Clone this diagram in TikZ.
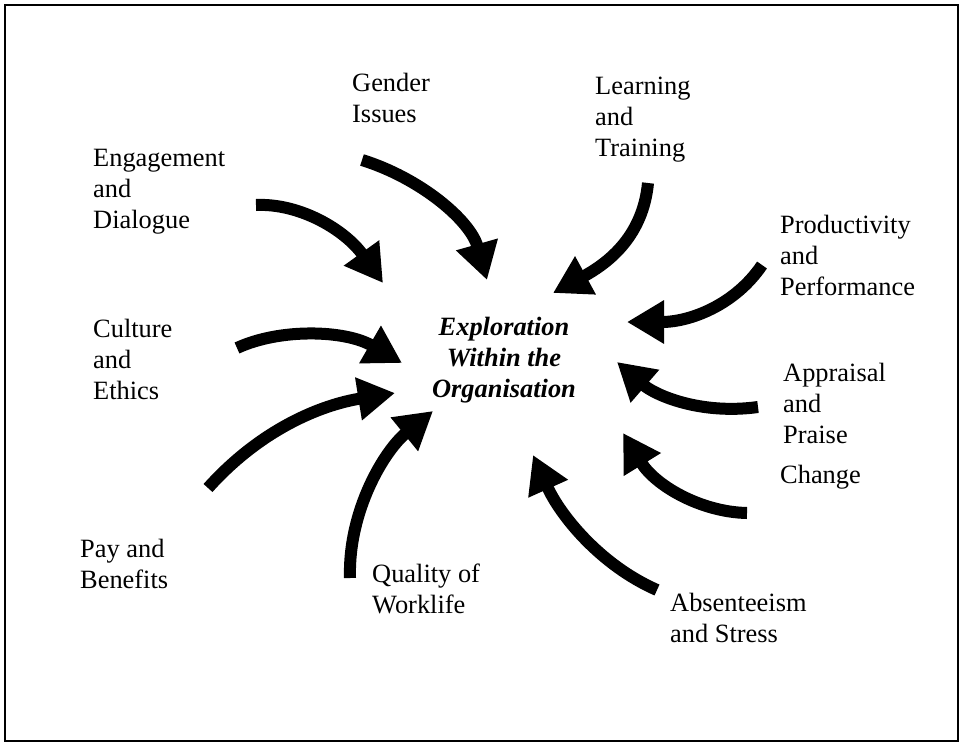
\documentclass[tikz,border=0pt]{standalone}
\usepackage{fontspec}
\setmainfont{Liberation Serif}
\usetikzlibrary{arrows.meta}
\begin{document}
\begin{tikzpicture}[x=1pt,y=-1pt,
  lbl/.style={anchor=base west,align=left,inner sep=0pt,font=\fontsize{26.4}{31}\selectfont},
  center/.style={anchor=base,align=center,inner sep=0pt,font=\fontsize{26.4}{31}\selectfont\bfseries\itshape},
  bigarrow/.style={line width=12pt,-{Triangle[length=37pt,width=41pt]}}]
\useasboundingbox (0,0) rectangle (963,747);
\draw[line width=1.6pt] (5,5) rectangle (958,741);

% anchors are at the baseline of the last line of each label
\node[center] (c) at (504,397) {Exploration\\Within the\\Organisation};

\node[lbl] (gender) at (352,122) {Gender\\Issues};
\node[lbl] (learn) at (595,156) {Learning\\and\\Training};
\node[lbl] (engage) at (93,228) {Engagement\\and\\Dialogue};
\node[lbl] (prod) at (780,295) {Productivity\\and\\Performance};
\node[lbl] (culture) at (93,399) {Culture\\and\\Ethics};
\node[lbl] (apprais) at (783,443) {Appraisal\\and\\Praise};
\node[lbl] (change) at (780,483) {Change};
\node[lbl] (pay) at (80,588) {Pay and\\Benefits};
\node[lbl] (quality) at (372,613) {Quality of\\Worklife};
\node[lbl] (absent) at (670,642) {Absenteeism\\and Stress};

\coordinate (t1) at (256,205); \coordinate (h1) at (383,283);
\coordinate (t2) at (362,160); \coordinate (h2) at (487,280);
\coordinate (t3) at (648,183); \coordinate (h3) at (553,293);
\coordinate (t4) at (762,265); \coordinate (h4) at (627,322);
\coordinate (t5) at (237,348); \coordinate (h5) at (402,363);
\coordinate (t6) at (758,407); \coordinate (h6) at (617,362);
\coordinate (t7) at (208,488); \coordinate (h7) at (395,393);
\coordinate (t8) at (350,578); \coordinate (h8) at (433,411);
\coordinate (t9) at (747,513); \coordinate (h9) at (623,433);
\coordinate (t10) at (657,590); \coordinate (h10) at (533,455);

\draw[bigarrow] (t1) .. controls (300,203) and (345,230) .. (h1);
\draw[bigarrow] (t2) .. controls (420,178) and (470,220) .. (h2);
\draw[bigarrow] (t3) .. controls (643,235) and (610,262) .. (h3);
\draw[bigarrow] (t4) .. controls (735,305) and (690,322) .. (h4);
\draw[bigarrow] (t5) .. controls (280,328) and (345,330) .. (h5);
\draw[bigarrow] (t6) .. controls (700,415) and (655,395) .. (h6);
\draw[bigarrow] (t7) .. controls (260,430) and (320,405) .. (h7);
\draw[bigarrow] (t8) .. controls (348,510) and (385,450) .. (h8);
\draw[bigarrow] (t9) .. controls (700,512) and (655,485) .. (h9);
\draw[bigarrow] (t10) .. controls (600,565) and (560,515) .. (h10);
\end{tikzpicture}
\end{document}
